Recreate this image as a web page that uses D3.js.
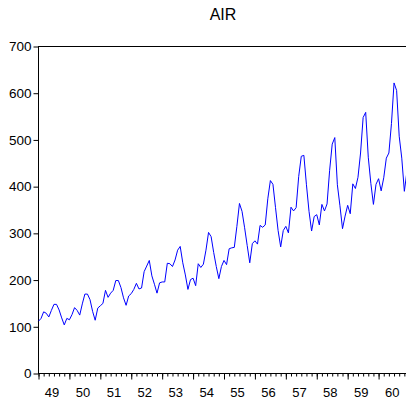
<!DOCTYPE html>
<html>
<head>
<meta charset="utf-8">
<script src="https://cdn.jsdelivr.net/npm/d3@7"></script>
<style>
  body { margin: 0; background: #fff; }
  svg { display: block; font-family: "Liberation Sans", Arial, sans-serif; }
</style>
</head>
<body>
<div id="chart"></div>
<script>
// monthly airline passengers (thousands), Jan 1949 .. Dec 1960
var air_1949 = [112, 118, 132, 129, 121, 135, 148, 148, 136, 119, 104, 118];
var air_1950 = [115, 126, 141, 135, 125, 149, 170, 170, 158, 133, 114, 140];
var air_1951 = [145, 150, 178, 163, 172, 178, 199, 199, 184, 162, 146, 166];
var air_1952 = [171, 180, 193, 181, 183, 218, 230, 242, 209, 191, 172, 194];
var air_1953 = [196, 196, 236, 235, 229, 243, 264, 272, 237, 211, 180, 201];
var air_1954 = [204, 188, 235, 227, 234, 264, 302, 293, 259, 229, 203, 229];
var air_1955 = [242, 233, 267, 269, 270, 315, 364, 347, 312, 274, 237, 278];
var air_1956 = [284, 277, 317, 313, 318, 374, 413, 405, 355, 306, 271, 306];
var air_1957 = [315, 301, 356, 348, 355, 422, 465, 467, 404, 347, 305, 336];
var air_1958 = [340, 318, 362, 348, 363, 435, 491, 505, 404, 359, 310, 337];
var air_1959 = [360, 342, 406, 396, 420, 472, 548, 559, 463, 407, 362, 405];
var air_1960 = [417, 391, 419, 461, 472, 535, 622, 606, 508, 461, 390, 432];

var years = [1949, 1950, 1951, 1952, 1953, 1954, 1955, 1956, 1957, 1958, 1959, 1960];
var year_labels = ["49", "50", "51", "52", "53", "54", "55", "56", "57", "58", "59", "60"];
var y_ticks = [0, 100, 200, 300, 400, 500, 600, 700];

var series = [].concat(air_1949, air_1950, air_1951, air_1952, air_1953, air_1954,
                       air_1955, air_1956, air_1957, air_1958, air_1959, air_1960);
var points = series.map(function(v, i) { return { t: 1949 + i / 12, v: v }; });

var width = 406, height = 399;
var m_left = 38.5, m_right = 409.5, m_top = 46.5, m_bottom = 373.5;

var svg = d3.select("#chart").append("svg")
    .attr("width", width)
    .attr("height", height);

var x = d3.scaleLinear().domain([1949, 1961]).range([m_left, m_right]);
var y = d3.scaleLinear().domain([0, 700]).range([m_bottom, m_top]);

// title
svg.append("text")
    .attr("x", 223)
    .attr("y", 19.5)
    .attr("text-anchor", "middle")
    .style("font-size", "16px")
    .text("AIR");

// frame (right side falls outside the window)
svg.append("rect")
    .attr("x", m_left)
    .attr("y", m_top)
    .attr("width", m_right - m_left)
    .attr("height", m_bottom - m_top)
    .attr("fill", "none")
    .attr("stroke", "#000")
    .attr("stroke-width", 1);

// y axis
var yAxis = d3.axisLeft(y).tickValues(y_ticks).tickSize(5).tickPadding(2);
var gy = svg.append("g").attr("transform", "translate(" + m_left + ",0)").call(yAxis);
gy.select(".domain").remove();
gy.selectAll("text").style("font-size", "13.5px").attr("fill", "#000");

// x axis: bimonthly minor ticks, yearly major ticks
var minor = d3.range(0, 12 * 6 + 1).map(function(i) { return 1949 + i / 6; });
var gxMinor = svg.append("g").attr("transform", "translate(0," + m_bottom + ")")
    .call(d3.axisBottom(x).tickValues(minor).tickSize(3).tickFormat(""));
gxMinor.select(".domain").remove();

var gxMajor = svg.append("g").attr("transform", "translate(0," + m_bottom + ")")
    .call(d3.axisBottom(x).tickValues(years.concat([1961])).tickSize(6).tickFormat(""));
gxMajor.select(".domain").remove();

// year labels centred in each year
svg.append("g").selectAll("text")
    .data(years)
    .enter().append("text")
    .attr("x", function(d) { return x(d + 0.44); })
    .attr("y", 397)
    .attr("text-anchor", "middle")
    .style("font-size", "13px")
    .text(function(d, i) { return year_labels[i]; });

// series line
var line = d3.line()
    .x(function(d) { return x(d.t); })
    .y(function(d) { return y(d.v); });

svg.append("path")
    .datum(points)
    .attr("d", line)
    .attr("fill", "none")
    .attr("stroke", "#0000ff")
    .attr("stroke-width", 1);
</script>
</body>
</html>
